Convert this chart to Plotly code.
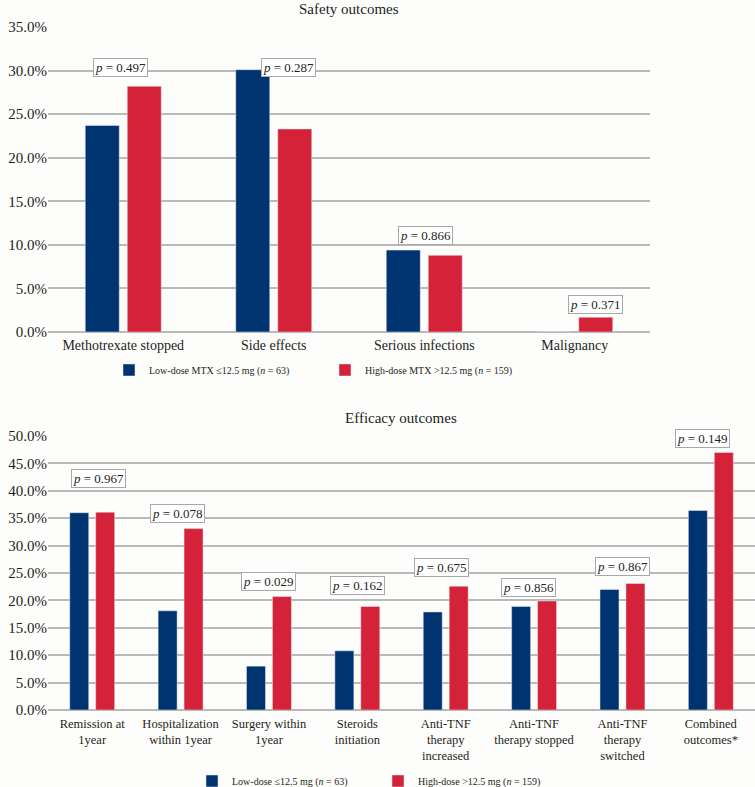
import plotly.graph_objects as go

# ---------------- data ----------------
safety_categories = ["Methotrexate stopped", "Side effects", "Serious infections", "Malignancy"]
safety_low = [23.7, 30.1, 9.4, 0.0]
safety_high = [28.2, 23.3, 8.8, 1.7]
safety_p = ["0.497", "0.287", "0.866", "0.371"]
safety_p_y = [30.4, 30.4, 11.1, 3.1]
safety_p_dx = [-0.02, 0.10, 0.01, 0.14]

efficacy_categories = ["Remission at<br>1year", "Hospitalization<br>within 1year", "Surgery within<br>1year",
                       "Steroids<br>initiation", "Anti-TNF<br>therapy<br>increased", "Anti-TNF<br>therapy stopped",
                       "Anti-TNF<br>therapy<br>switched", "Combined<br>outcomes*"]
efficacy_low = [36.0, 18.1, 8.0, 10.8, 17.9, 18.9, 22.0, 36.4]
efficacy_high = [36.1, 33.1, 20.7, 18.9, 22.6, 19.9, 23.1, 47.0]
efficacy_p = ["0.967", "0.078", "0.029", "0.162", "0.675", "0.856", "0.867", "0.149"]
efficacy_p_y = [42.3, 35.9, 23.5, 22.8, 26.0, 22.4, 26.1, 49.5]
efficacy_p_dx = [0.07, -0.04, 0.0, 0.0, -0.05, -0.065, 0.0, -0.09]

safety_tickvals = [0, 5, 10, 15, 20, 25, 30, 35]
safety_ticktext = ["0.0%", "5.0%", "10.0%", "15.0%", "20.0%", "25.0%", "30.0%", "35.0%"]
efficacy_tickvals = [0, 5, 10, 15, 20, 25, 30, 35, 40, 45, 50]
efficacy_ticktext = ["0.0%", "5.0%", "10.0%", "15.0%", "20.0%", "25.0%", "30.0%", "35.0%",
                     "40.0%", "45.0%", "50.0%"]

BLUE = "#003470"
RED = "#d42338"
FONT = "Liberation Serif"
TXT = "#231f20"
GRID = "#b9b9b9"
BG = "#fdfdfb"
W, H = 755.0, 787.0

fig = go.Figure()

fig.add_trace(go.Bar(x=safety_categories, y=safety_low, marker_color=BLUE,
                     name="Low-dose MTX ≤12.5 mg (<i>n</i> = 63)", width=0.226, offset=-0.2525,
                     xaxis="x", yaxis="y", legend="legend"))
fig.add_trace(go.Bar(x=safety_categories, y=safety_high, marker_color=RED,
                     name="High-dose MTX >12.5 mg (<i>n</i> = 159)", width=0.226, offset=0.0265,
                     xaxis="x", yaxis="y", legend="legend"))
fig.add_trace(go.Bar(x=efficacy_categories, y=efficacy_low, marker_color=BLUE,
                     name="Low-dose ≤12.5 mg (<i>n</i> = 63)", width=0.215, offset=-0.254,
                     xaxis="x2", yaxis="y2", legend="legend2"))
fig.add_trace(go.Bar(x=efficacy_categories, y=efficacy_high, marker_color=RED,
                     name="High-dose >12.5 mg (<i>n</i> = 159)", width=0.215, offset=0.0395,
                     xaxis="x2", yaxis="y2", legend="legend2"))

annotations = []
for i, (p, y, dx) in enumerate(zip(safety_p, safety_p_y, safety_p_dx)):
    annotations.append(dict(x=i + dx, y=y, xref="x", yref="y", text=f"<i>p</i> = {p}",
                            showarrow=False, font=dict(family=FONT, size=13, color=TXT),
                            bgcolor="white", bordercolor="#a8a8a8", borderwidth=1, borderpad=1,
                            xanchor="center", yanchor="middle"))
for i, (p, y, dx) in enumerate(zip(efficacy_p, efficacy_p_y, efficacy_p_dx)):
    annotations.append(dict(x=i + dx, y=y, xref="x2", yref="y2", text=f"<i>p</i> = {p}",
                            showarrow=False, font=dict(family=FONT, size=13, color=TXT),
                            bgcolor="white", bordercolor="#a8a8a8", borderwidth=1, borderpad=1,
                            xanchor="center", yanchor="middle"))
annotations.append(dict(x=(349 - 48) / 707, y=1 - 9 / H, xref="paper", yref="paper",
                        text="Safety outcomes", showarrow=False,
                        font=dict(family=FONT, size=15, color=TXT), xanchor="center", yanchor="middle"))
annotations.append(dict(x=(401 - 48) / 707, y=1 - 418 / H, xref="paper", yref="paper",
                        text="Efficacy outcomes", showarrow=False,
                        font=dict(family=FONT, size=15, color=TXT), xanchor="center", yanchor="middle"))

yax_common = dict(showgrid=True, gridcolor=GRID, gridwidth=1.5, zeroline=True, zerolinecolor=GRID,
                  zerolinewidth=1.5, showline=False,
                  tickfont=dict(family=FONT, size=15, color=TXT), automargin=False, ticks="")

fig.update_layout(
    width=755, height=787,
    margin=dict(l=48, r=0, t=0, b=0, autoexpand=False),
    paper_bgcolor=BG, plot_bgcolor=BG,
    font=dict(family=FONT, color=TXT),
    barmode="group",
    showlegend=True,
    xaxis=dict(domain=[0, 602 / 707], anchor="y", showgrid=False, showline=False, ticks="",
               tickfont=dict(family=FONT, size=14, color=TXT), automargin=False, ticklabelstandoff=3),
    yaxis=dict(domain=[1 - 332 / H, 1 - 27 / H], anchor="x", range=[0, 35],
               tickvals=safety_tickvals, ticktext=safety_ticktext, **yax_common),
    xaxis2=dict(domain=[0, 1], anchor="y2", showgrid=False, showline=False, ticks="",
                tickfont=dict(family=FONT, size=12.5, color=TXT), automargin=False, ticklabelstandoff=4),
    yaxis2=dict(domain=[1 - 710 / H, 1 - 436 / H], anchor="x2", range=[0, 50],
                tickvals=efficacy_tickvals, ticktext=efficacy_ticktext, **yax_common),
    legend=dict(orientation="h", xref="container", yref="container", x=109 / W, y=1 - 370 / H,
                xanchor="left", yanchor="middle",
                font=dict(family=FONT, size=10, color=TXT), bgcolor="rgba(0,0,0,0)",
                entrywidth=171, entrywidthmode="pixels", itemwidth=30),
    legend2=dict(orientation="h", xref="container", yref="container", x=192 / W, y=1 - 781 / H,
                 xanchor="left", yanchor="middle",
                 font=dict(family=FONT, size=10, color=TXT), bgcolor="rgba(0,0,0,0)",
                 entrywidth=141, entrywidthmode="pixels", itemwidth=30),
    annotations=annotations,
)

fig.write_html("out.html", config={"displayModeBar": False},
               post_script="document.body.style.margin='0px';")
